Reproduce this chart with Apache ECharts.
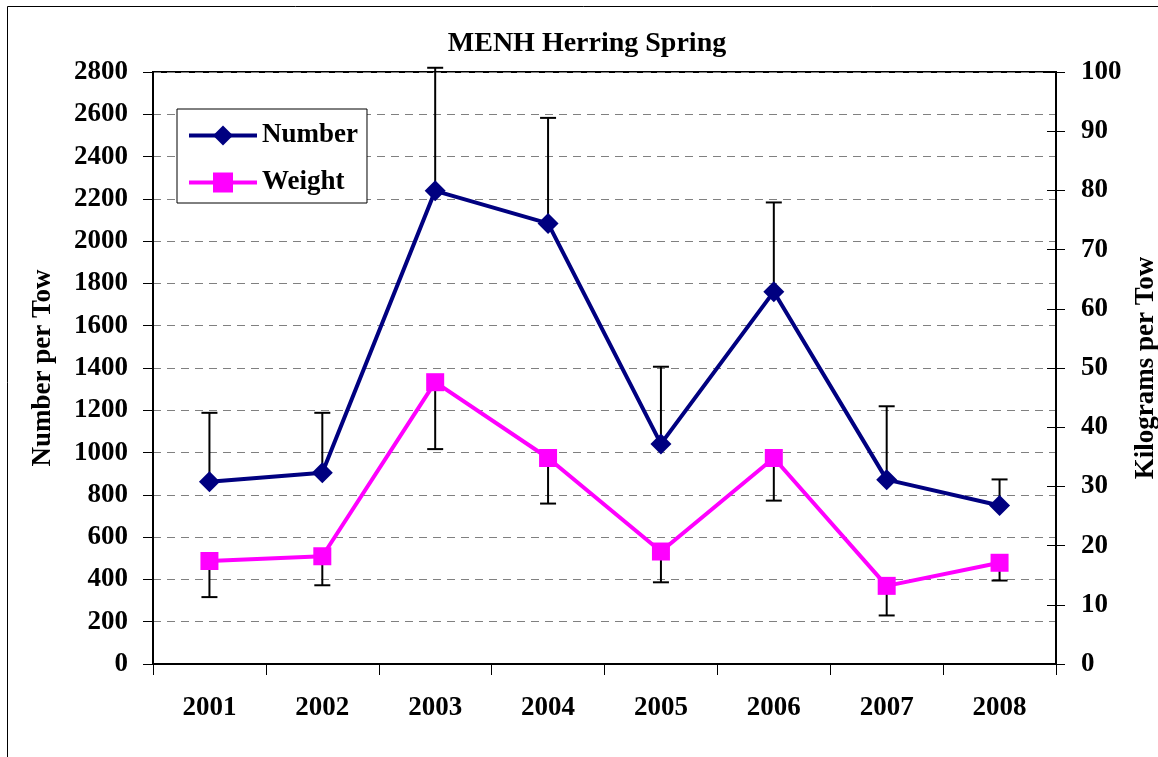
<!DOCTYPE html>
<html>
<head>
<meta charset="utf-8">
<script src="https://cdn.jsdelivr.net/npm/echarts@6/dist/echarts.min.js"></script>
<style>
html, body { margin: 0; padding: 0; background: #fff; }
#chart1 { width: 1158px; height: 757px; }
</style>
</head>
<body>
<div id="chart1"></div>
<script>
// values
var years = ['2001', '2002', '2003', '2004', '2005', '2006', '2007', '2008'];
var numberMean = [862, 905, 2238, 2084, 1041, 1761, 872, 750];
var numberUpper = [1188, 1188, 2820, 2583, 1406, 2183, 1219, 873];
var weightMean = [17.4, 18.2, 47.6, 34.8, 19.0, 34.8, 13.2, 17.1];
var weightLower = [11.3, 13.3, 36.3, 27.1, 13.8, 27.6, 8.2, 14.1];
var leftTicks = [0, 2800, 200];
var rightTicks = [0, 100, 10];

var font = "'Liberation Serif', 'Times New Roman', serif";

// error bar: line from mean to bound, cap at the bound
function errorBar(params, api) {
    var p = api.coord([api.value(0), api.value(1)]);
    var e = api.coord([api.value(0), api.value(2)]);
    var half = 8;
    var st = { stroke: '#000', lineWidth: 2 };
    return {
        type: 'group',
        children: [
            { type: 'line', shape: { x1: p[0], y1: p[1], x2: e[0], y2: e[1] }, style: st },
            { type: 'line', shape: { x1: e[0] - half, y1: e[1], x2: e[0] + half, y2: e[1] }, style: st }
        ]
    };
}

var chart = echarts.init(document.getElementById('chart1'));
var option = {
    animation: false,
    backgroundColor: '#fff',
    textStyle: { fontFamily: font },
    graphic: [{
        type: 'rect',
        shape: { x: 7.5, y: 6.5, width: 1400, height: 900 },
        style: { fill: 'none', stroke: '#000', lineWidth: 1 }
    }],
    title: {
        text: 'MENH Herring Spring',
        left: 587,
        textAlign: 'center',
        top: 30,
        padding: 0,
        textStyle: { fontFamily: font, fontSize: 28, fontWeight: 'bold', color: '#000' }
    },
    legend: {
        data: ['Number', 'Weight'],
        orient: 'vertical',
        left: 177,
        top: 109,
        width: 192,
        padding: [13, 9, 7, 10],
        itemGap: 20,
        itemWidth: 68,
        itemHeight: 25,
        lineStyle: { width: 4 },
        backgroundColor: '#fff',
        borderColor: '#000',
        borderWidth: 1,
        textStyle: { fontFamily: font, fontSize: 27, fontWeight: 'bold', color: '#000' }
    },
    grid: {
        left: 153, right: 102, top: 72, bottom: 93,
        outerBoundsMode: 'none',
        show: true, borderColor: '#000', borderWidth: 2
    },
    xAxis: {
        type: 'category',
        data: years,
        boundaryGap: true,
        axisLine: { lineStyle: { color: '#000', width: 2 } },
        axisTick: { show: true, length: 11, lineStyle: { color: '#000', width: 1 } },
        axisLabel: { margin: 31, fontFamily: font, fontSize: 27, fontWeight: 'bold', color: '#000' }
    },
    yAxis: [{
        type: 'value',
        position: 'left',
        min: leftTicks[0], max: leftTicks[1], interval: leftTicks[2],
        name: 'Number per Tow',
        nameLocation: 'middle',
        nameGap: 96,
        nameTextStyle: { fontFamily: font, fontSize: 27, fontWeight: 'bold', color: '#000' },
        axisLine: { show: true, lineStyle: { color: '#000', width: 2 } },
        axisTick: { show: true, length: 10, lineStyle: { color: '#000', width: 1 } },
        axisLabel: {
            margin: 25, fontFamily: font, fontSize: 27, fontWeight: 'bold', color: '#000',
            formatter: function (v) { return String(v); }
        },
        splitLine: { show: true, lineStyle: { color: '#808080', width: 1, type: [8, 6] } }
    }, {
        type: 'value',
        position: 'right',
        min: rightTicks[0], max: rightTicks[1], interval: rightTicks[2],
        name: 'Kilograms per Tow',
        nameLocation: 'middle',
        nameGap: 66,
        nameTextStyle: { fontFamily: font, fontSize: 27, fontWeight: 'bold', color: '#000' },
        axisLine: { show: true, lineStyle: { color: '#000', width: 2 } },
        axisTick: { show: true, length: 9, lineStyle: { color: '#000', width: 1 } },
        axisLabel: { margin: 25, fontFamily: font, fontSize: 27, fontWeight: 'bold', color: '#000' },
        splitLine: { show: false }
    }, {
        // inner half of the crossing ticks on the right axis
        type: 'value',
        position: 'right',
        min: rightTicks[0], max: rightTicks[1], interval: rightTicks[2],
        axisLine: { show: false },
        axisTick: { show: true, inside: true, length: 9, lineStyle: { color: '#000', width: 1 } },
        axisLabel: { show: false },
        splitLine: { show: false }
    }],
    series: [{
        type: 'custom',
        name: 'NumberErr',
        yAxisIndex: 0,
        clip: false,
        z: 2,
        renderItem: errorBar,
        encode: { x: 0, y: [1, 2] },
        data: years.map(function (y, i) { return [i, numberMean[i], numberUpper[i]]; })
    }, {
        type: 'custom',
        name: 'WeightErr',
        yAxisIndex: 1,
        clip: false,
        z: 2,
        renderItem: errorBar,
        encode: { x: 0, y: [1, 2] },
        data: years.map(function (y, i) { return [i, weightMean[i], weightLower[i]]; })
    }, {
        type: 'line',
        name: 'Number',
        yAxisIndex: 0,
        z: 3,
        data: numberMean,
        symbol: 'diamond',
        symbolSize: 21,
        lineStyle: { color: '#000080', width: 4 },
        itemStyle: { color: '#000080' }
    }, {
        type: 'line',
        name: 'Weight',
        yAxisIndex: 1,
        z: 3,
        data: weightMean,
        symbol: 'rect',
        symbolSize: 18,
        lineStyle: { color: '#ff00ff', width: 4 },
        itemStyle: { color: '#ff00ff' }
    }]
};
chart.setOption(option);
</script>
</body>
</html>
